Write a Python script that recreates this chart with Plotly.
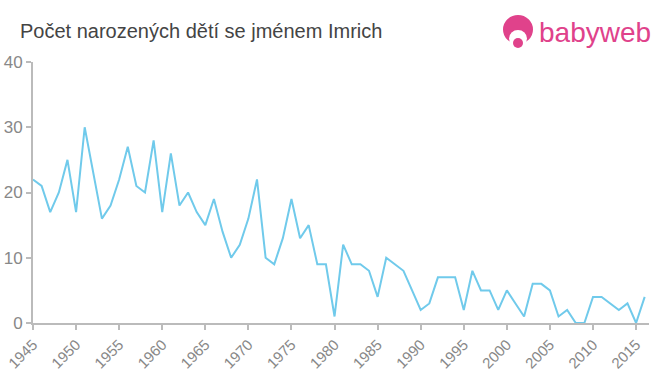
import plotly.graph_objects as go

years = list(range(1945, 2017))
counts = [22, 21, 17, 20, 25, 17, 30, 23, 16, 18,
          22, 27, 21, 20, 28, 17, 26, 18, 20, 17,
          15, 19, 14, 10, 12, 16, 22, 10, 9, 13,
          19, 13, 15, 9, 9, 1, 12, 9, 9, 8,
          4, 10, 9, 8, 5, 2, 3, 7, 7, 7,
          2, 8, 5, 5, 2, 5, 3, 1, 6, 6,
          5, 1, 2, 0, 0, 4, 4, 3, 2, 3,
          0, 4]
x_ticks = list(range(1945, 2016, 5))
y_ticks = [0, 10, 20, 30, 40]

title_text = "Počet narozených dětí se jménem Imrich"
logo_text = "babyweb"

W, H = 660, 375
L, R, T, B = 33, 11, 62, 52
pw, ph = W - L - R, H - T - B

def px(x):
    return (x - L) / pw

def py(y):
    return (H - B - y) / ph

fig = go.Figure()
fig.add_trace(go.Scatter(
    x=years, y=counts, mode="lines",
    line=dict(color="rgb(112,202,235)", width=2),
    hoverinfo="x+y", showlegend=False,
))

pink = "#e0428b"
shapes = [
    dict(type="circle", xref="paper", yref="paper",
         x0=px(503), x1=px(533), y0=py(44), y1=py(15),
         fillcolor=pink, line=dict(width=0)),
    dict(type="circle", xref="paper", yref="paper",
         x0=px(509), x1=px(527), y0=py(47), y1=py(30),
         fillcolor="white", line=dict(width=0)),
    dict(type="circle", xref="paper", yref="paper",
         x0=px(513), x1=px(523), y0=py(48), y1=py(38),
         fillcolor=pink, line=dict(width=0)),
]

fig.update_layout(
    width=W, height=H,
    margin=dict(l=L, r=R, t=T, b=B, autoexpand=False),
    paper_bgcolor="white", plot_bgcolor="white",
    font=dict(family="Liberation Sans, Arial, sans-serif", color="#888"),
    title=dict(text=title_text, x=20 / W, xanchor="left", xref="container",
               y=1 - 31 / H, yanchor="middle", yref="container",
               font=dict(size=20, color="#444"), automargin=False),
    shapes=shapes,
    annotations=[dict(text=logo_text, xref="paper", yref="paper",
                      x=px(537), y=py(33), xanchor="left", yanchor="middle",
                      showarrow=False, font=dict(size=28, color=pink))],
    xaxis=dict(range=[1945, 2016.5], tickvals=x_ticks, tickangle=-45,
               showgrid=False, zeroline=False, showline=True, automargin=False,
               linecolor="#bbb", linewidth=2, ticks="outside", ticklen=5,
               tickcolor="#bbb", tickwidth=2,
               tickfont=dict(size=15, color="#888")),
    yaxis=dict(range=[0, 40], tickvals=y_ticks,
               showgrid=False, zeroline=False, showline=True, automargin=False,
               linecolor="#bbb", linewidth=2, ticks="outside", ticklen=5,
               tickcolor="#bbb", tickwidth=2,
               tickfont=dict(size=17, color="#888")),
)

fig.write_html("out.html", config={"displayModeBar": False},
               post_script="document.body.style.margin='0';document.body.style.padding='0';")
